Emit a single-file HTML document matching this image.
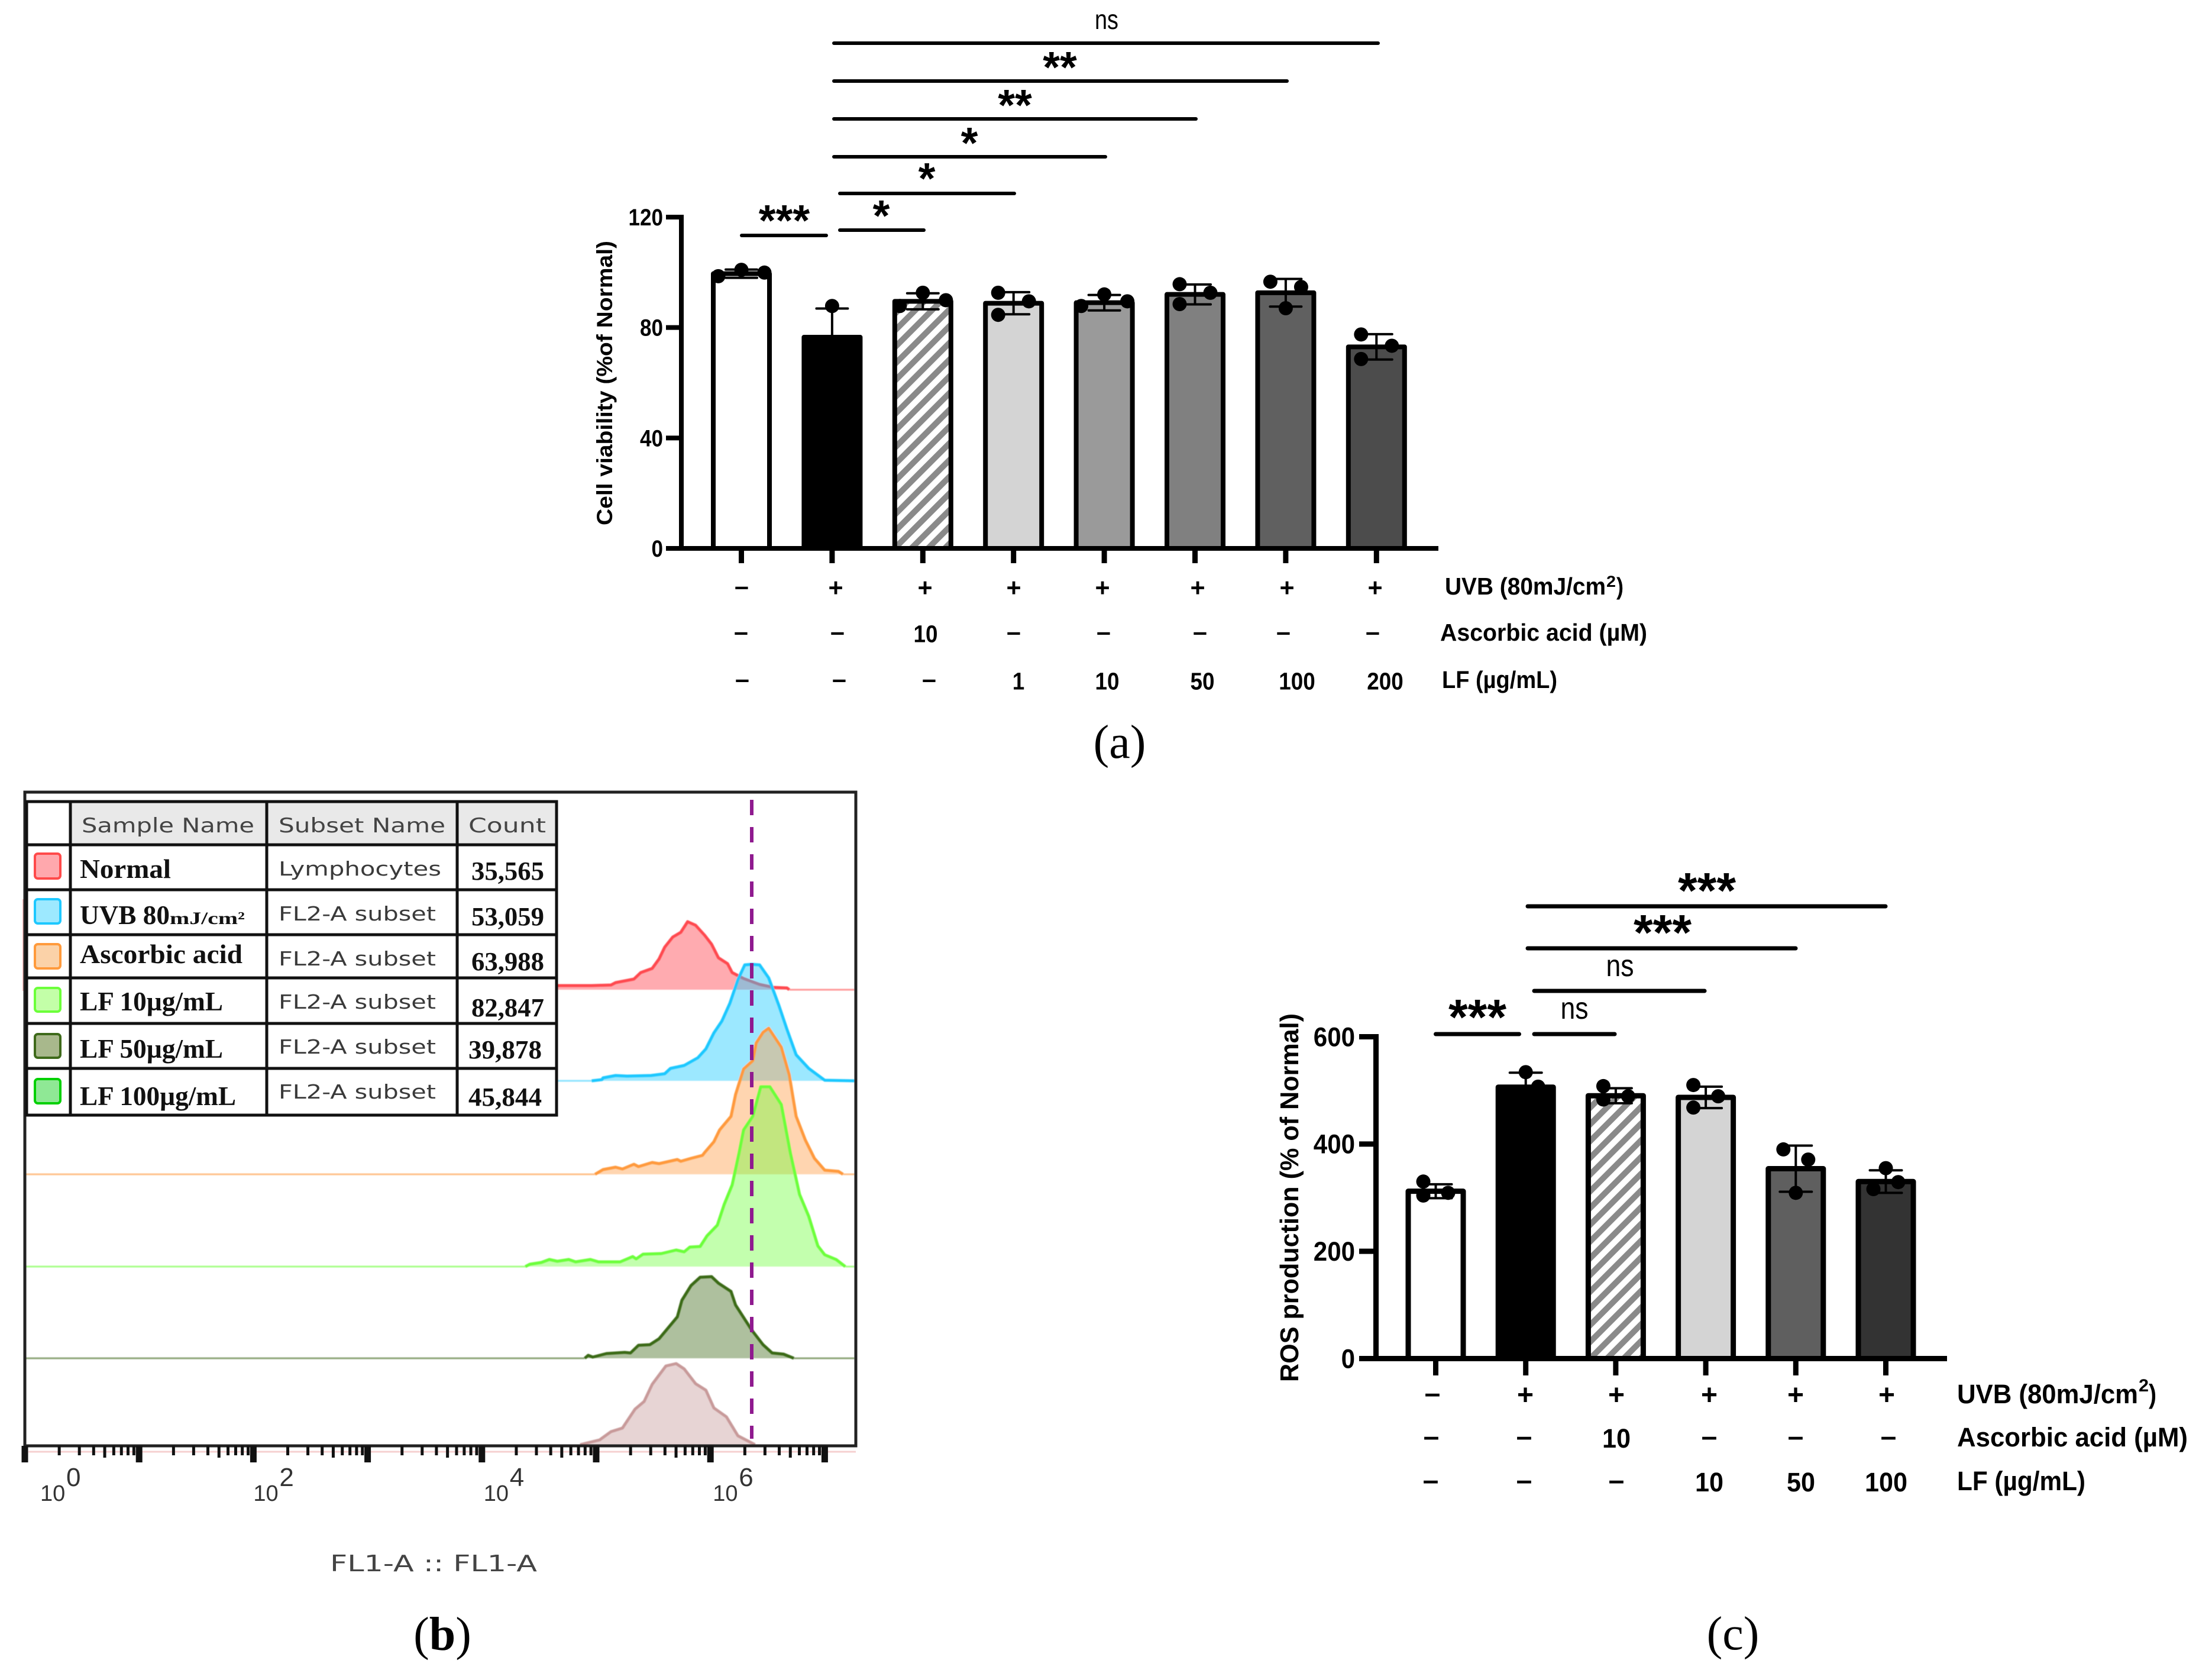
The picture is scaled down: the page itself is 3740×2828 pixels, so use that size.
<!DOCTYPE html>
<html lang="en">
<head>
<meta charset="utf-8">
<title>Cell viability, flow cytometry and ROS production charts</title>
<style>
html,body{margin:0;padding:0;background:#fff;}
svg{display:block;}
text{font-family:"Liberation Sans",sans-serif;}
.b,.b text{font-weight:bold;fill:#000;}
.ser text{font-family:"Liberation Serif",serif;font-weight:bold;fill:#111;}
.hd{font-family:"DejaVu Sans",sans-serif;fill:#444;font-size:34px;}
.sub text{font-family:"DejaVu Sans",sans-serif;fill:#3a3a3a;font-size:33px;}
.cap{font-family:"Liberation Serif",serif;font-size:80px;fill:#000;}
</style>
</head>
<body>
<svg id="fig" xmlns="http://www.w3.org/2000/svg" width="3740" height="2828" viewBox="0 0 3740 2828">
<defs>
<pattern id="hatch" patternUnits="userSpaceOnUse" width="20" height="20" patternTransform="rotate(45)">
<rect width="20" height="20" fill="#fff"/>
<rect width="10" height="20" fill="#8a8a8a"/>
</pattern>
<filter id="soft" x="-5%" y="-5%" width="110%" height="110%"><feGaussianBlur stdDeviation="0.8"/></filter>
</defs>
<rect width="3740" height="2828" fill="#fff"/>

<g id="chartA"></g>
<g id="annotA">
<g stroke="#000" stroke-width="6" stroke-linecap="round">
<line x1="1410" y1="73" x2="2330" y2="73"/>
<line x1="1410" y1="137" x2="2176" y2="137"/>
<line x1="1410" y1="201" x2="2022" y2="201"/>
<line x1="1410" y1="265" x2="1869" y2="265"/>
<line x1="1420" y1="327" x2="1715" y2="327"/>
<line x1="1420" y1="389" x2="1562" y2="389"/>
<line x1="1254" y1="398" x2="1397" y2="398"/>
</g>
<g class="b" font-size="74" text-anchor="middle">
<text x="1792" y="139">**</text>
<text x="1716" y="203">**</text>
<text x="1639" y="267">*</text>
<text x="1567" y="327">*</text>
<text x="1490" y="390">*</text>
<text x="1326" y="398">***</text>
</g>
<text x="1871" y="49" font-size="46" text-anchor="middle" textLength="40" lengthAdjust="spacingAndGlyphs" fill="#000">ns</text>
</g>
<g class="b" font-size="41">
<text x="2443" y="1005" textLength="272" lengthAdjust="spacingAndGlyphs">UVB (80mJ/cm</text>
<text x="2716" y="992" font-size="27" textLength="16" lengthAdjust="spacingAndGlyphs">2</text>
<text x="2733" y="1005" textLength="12" lengthAdjust="spacingAndGlyphs">)</text>
<text x="2435" y="1083" textLength="350" lengthAdjust="spacingAndGlyphs">Ascorbic acid (µM)</text>
<text x="2438" y="1163" textLength="195" lengthAdjust="spacingAndGlyphs">LF (µg/mL)</text>
</g>
<text class="b" transform="translate(1035 647.5) rotate(-90)" font-size="37" text-anchor="middle" textLength="481" lengthAdjust="spacingAndGlyphs">Cell viability (%of Normal)</text>
<text class="cap" x="1893" y="1281" text-anchor="middle">(a)</text>

<g id="chartC"></g>
<g id="annotC">
<g stroke="#000" stroke-width="7" stroke-linecap="round">
<line x1="2583" y1="1532" x2="3188" y2="1532"/>
<line x1="2583" y1="1603" x2="3036" y2="1603"/>
<line x1="2594" y1="1675" x2="2882" y2="1675"/>
<line x1="2594" y1="1748" x2="2730" y2="1748"/>
<line x1="2427.5" y1="1748" x2="2568.5" y2="1748"/>
</g>
<g class="b" font-size="84" text-anchor="middle">
<text x="2886" y="1534">***</text>
<text x="2811" y="1605">***</text>
<text x="2498" y="1748">***</text>
</g>
<g font-size="52" fill="#000" text-anchor="middle">
<text x="2739" y="1650" textLength="47" lengthAdjust="spacingAndGlyphs">ns</text>
<text x="2662" y="1722" textLength="47" lengthAdjust="spacingAndGlyphs">ns</text>
</g>
</g>
<g class="b" font-size="45">
<text x="3309" y="2372" textLength="306" lengthAdjust="spacingAndGlyphs">UVB (80mJ/cm</text>
<text x="3616" y="2352" font-size="30" textLength="17" lengthAdjust="spacingAndGlyphs">2</text>
<text x="3633" y="2372" textLength="13" lengthAdjust="spacingAndGlyphs">)</text>
<text x="3309" y="2445" textLength="390" lengthAdjust="spacingAndGlyphs">Ascorbic acid (µM)</text>
<text x="3309" y="2519" textLength="217" lengthAdjust="spacingAndGlyphs">LF (µg/mL)</text>
</g>
<text class="b" transform="translate(2195 2024.5) rotate(-90)" font-size="44" text-anchor="middle" textLength="623" lengthAdjust="spacingAndGlyphs">ROS production (% of Normal)</text>
<text class="cap" x="2930" y="2788" text-anchor="middle">(c)</text>

<g id="flow">
<rect x="38" y="1520" width="3" height="155" fill="#fbc0c0"/>
<g id="flowTraces" filter="url(#soft)"></g>
<rect x="42" y="1339" width="1405" height="1105" fill="none" stroke="#222" stroke-width="5"/>
<line x1="1271" y1="1352" x2="1271" y2="2432" stroke="#8f1a8f" stroke-width="6" stroke-dasharray="26 20"/>
<line x1="48" y1="2454" x2="1447" y2="2454" stroke="#f6d0d0" stroke-width="3"/>
<g id="flowAxis"></g>
<text x="558" y="2656" font-size="38" fill="#444" style="font-family:'DejaVu Sans',sans-serif" textLength="350" lengthAdjust="spacingAndGlyphs">FL1-A :: FL1-A</text>
</g>

<g id="flowLegend">
<rect x="45" y="1355" width="896" height="530" fill="#fff"/>
<rect x="119" y="1355" width="822" height="73" fill="#e9e9e9"/>
<g stroke="#111" stroke-width="5" fill="none">
<rect x="45" y="1355" width="896" height="530"/>
<line x1="119" y1="1355" x2="119" y2="1885"/><line x1="451" y1="1355" x2="451" y2="1885"/><line x1="773" y1="1355" x2="773" y2="1885"/>
<line x1="45" y1="1428" x2="941" y2="1428"/><line x1="45" y1="1504" x2="941" y2="1504"/><line x1="45" y1="1580" x2="941" y2="1580"/>
<line x1="45" y1="1653" x2="941" y2="1653"/><line x1="45" y1="1730" x2="941" y2="1730"/><line x1="45" y1="1806" x2="941" y2="1806"/>
</g>
<g stroke-width="4">
<rect x="59" y="1443" width="43" height="42" rx="5" fill="#ffa8ad" stroke="#ff4a4a"/>
<rect x="59" y="1520" width="43" height="41" rx="5" fill="#9de9ff" stroke="#1ec8ff"/>
<rect x="59" y="1596" width="43" height="41" rx="5" fill="#fbd2a8" stroke="#ff9a3c"/>
<rect x="59" y="1670" width="43" height="40" rx="5" fill="#c3ffa8" stroke="#6cff3a"/>
<rect x="59" y="1748" width="43" height="40" rx="5" fill="#a8b88c" stroke="#3e6a1a"/>
<rect x="59" y="1824" width="43" height="41" rx="5" fill="#8fe895" stroke="#00d000"/>
</g>
<text class="hd" x="138" y="1407" textLength="292" lengthAdjust="spacingAndGlyphs">Sample Name</text>
<text class="hd" x="471" y="1407" textLength="282" lengthAdjust="spacingAndGlyphs">Subset Name</text>
<text class="hd" x="792" y="1407" textLength="131" lengthAdjust="spacingAndGlyphs">Count</text>
<g class="ser" font-size="46">
<text x="135" y="1484" textLength="154" lengthAdjust="spacingAndGlyphs">Normal</text>
<text x="135" y="1562" textLength="152" lengthAdjust="spacingAndGlyphs">UVB 80</text>
<text x="287" y="1562" font-size="30" textLength="127" lengthAdjust="spacingAndGlyphs">mJ/cm²</text>
<text x="135" y="1628" textLength="275" lengthAdjust="spacingAndGlyphs">Ascorbic acid</text>
<text x="135" y="1708" textLength="242" lengthAdjust="spacingAndGlyphs">LF 10µg/mL</text>
<text x="135" y="1788" textLength="242" lengthAdjust="spacingAndGlyphs">LF 50µg/mL</text>
<text x="135" y="1868" textLength="264" lengthAdjust="spacingAndGlyphs">LF 100µg/mL</text>
</g>
<g class="sub">
<text x="471" y="1480" textLength="275" lengthAdjust="spacingAndGlyphs">Lymphocytes</text>
<text x="471" y="1556" textLength="266" lengthAdjust="spacingAndGlyphs">FL2-A subset</text>
<text x="471" y="1632" textLength="266" lengthAdjust="spacingAndGlyphs">FL2-A subset</text>
<text x="471" y="1705" textLength="266" lengthAdjust="spacingAndGlyphs">FL2-A subset</text>
<text x="471" y="1781" textLength="266" lengthAdjust="spacingAndGlyphs">FL2-A subset</text>
<text x="471" y="1857" textLength="266" lengthAdjust="spacingAndGlyphs">FL2-A subset</text>
</g>
<g class="ser" font-size="44">
<text x="797" y="1487" textLength="123" lengthAdjust="spacingAndGlyphs">35,565</text>
<text x="797" y="1564" textLength="123" lengthAdjust="spacingAndGlyphs">53,059</text>
<text x="797" y="1640" textLength="123" lengthAdjust="spacingAndGlyphs">63,988</text>
<text x="797" y="1718" textLength="123" lengthAdjust="spacingAndGlyphs">82,847</text>
<text x="792" y="1789" textLength="124" lengthAdjust="spacingAndGlyphs">39,878</text>
<text x="792" y="1869" textLength="124" lengthAdjust="spacingAndGlyphs">45,844</text>
</g>
</g>
<text class="cap" x="748" y="2789" text-anchor="middle">(<tspan font-weight="bold">b</tspan>)</text>
</svg>

<script>
// ---- Panel (a) data ----
const aCategories = ['Normal','UVB','Ascorbic 10','LF 1','LF 10','LF 50','LF 100','LF 200'];
const aMeans = [99.5,76.5,89.5,88.8,89,92,92.6,73];
const aSD = [1.5,10.4,2.9,4,2.8,3.6,5,4.6];
const aDots = [[98.6,100.9,99.9],[87.8],[87.8,92.6,89.9],[92.6,84.6,89.5],[87.8,92,89.5],[95.7,88.5,92.6],[96.6,87,94.7],[77.5,68.6,73.4]];
const aDotSlots = [[-3,0,3],[0],[-3,0,3],[-2,-2,2],[-3,0,3],[-2,-2,2],[-2,0,2],[-2,-2,2]];
const aYTicks = [0,40,80,120];
const aUvbRow = ['–','+','+','+','+','+','+','+'];
const aAscorbicRow = ['–','–','10','–','–','–','–','–'];
const aLfRow = ['–','–','–','1','10','50','100','200'];

// ---- Panel (c) data ----
const cCategories = ['Normal','UVB','Ascorbic 10','LF 10','LF 50','LF 100'];
const cMeans = [312,506,490,487,354,330];
const cSD = [13,27,14,20,43,21];
const cDots = [[330,304,309],[534,507],[508,483,489],[510,468,489],[390,309,371],[316,355,329]];
const cDotSlots = [[-2,-2,2],[0,2],[-2,-2,2],[-2,-2,2],[-2,0,2],[-2,0,2]];
const cYTicks = [0,200,400,600];
const cUvbRow = ['–','+','+','+','+','+'];
const cAscorbicRow = ['–','–','10','–','–','–'];
const cLfRow = ['–','–','–','10','50','100'];

// ---- Panel (b) data: log10(FL1-A) vs. event count ----
const flowTickExponents = [0,2,4,6];
const normalLog = [4.6,4.96,5.13,5.17,5.25,5.33,5.39,5.49,5.55,5.6,5.67,5.74,5.8,5.87,5.95,6.01,6.07,6.15,6.19,6.29,6.43,6.55,6.67,6.69,7.26];
const normalCount = [7,7,8,12,15,18,29,36,52,72,89,97,115,109,92,77,54,44,29,19,9,4,3,0,0];
const uvbLog = [4.66,4.96,5.05,5.06,5.17,5.27,5.48,5.6,5.65,5.77,5.89,5.96,6.03,6.1,6.17,6.24,6.3,6.36,6.43,6.51,6.6,6.67,6.75,6.86,7,7.26];
const uvbCount = [0,0,2,5,9,8,9,12,21,26,39,54,81,101,131,171,196,197,196,174,127,87,44,21,1,0];
const ascorbicLog = [0,4.99,5.06,5.17,5.23,5.33,5.37,5.49,5.55,5.71,5.74,5.83,5.93,5.95,6.03,6.08,6.18,6.22,6.29,6.37,6.4,6.46,6.51,6.62,6.69,6.75,6.83,6.91,7,7.12,7.16,7.26];
const ascorbicCount = [0,0,8,12,9,17,13,20,18,25,22,27,32,37,55,75,98,135,178,192,222,240,247,215,168,98,58,27,7,5,0,0];
const lf10Log = [0,4.38,4.42,4.52,4.59,4.66,4.76,4.82,4.95,5.02,5.21,5.32,5.35,5.41,5.57,5.7,5.77,5.82,5.91,5.97,6.06,6.12,6.19,6.25,6.29,6.37,6.44,6.52,6.62,6.7,6.78,6.86,6.94,7,7.1,7.18,7.26];
const lf10Count = [0,0,4,7,12,9,12,8,12,8,8,17,13,21,22,28,25,33,34,52,70,105,138,192,231,254,304,304,274,192,122,85,35,20,12,0,0];
const lf50Log = [0,4.9,4.93,4.97,5.09,5.25,5.3,5.37,5.47,5.55,5.71,5.75,5.83,5.91,6.01,6.07,6.18,6.22,6.36,6.46,6.54,6.64,6.73,7.26];
const lf50Count = [0,0,5,2,8,10,9,22,23,33,70,98,123,137,138,127,113,90,48,23,9,7,0,0];
const lf100Log = [4.86,5.03,5.13,5.23,5.34,5.42,5.49,5.61,5.7,5.77,5.87,5.96,6.03,6.14,6.24,6.39];
const lf100Count = [0,8,22,28,60,73,102,133,137,128,103,92,62,47,15,0];

const NS = 'http://www.w3.org/2000/svg';
function mk(parent, tag, attrs, txt) {
  const el = document.createElementNS(NS, tag);
  for (const k in attrs) el.setAttribute(k, attrs[k]);
  if (txt !== undefined) el.textContent = txt;
  parent.appendChild(el);
  return el;
}

function drawBarChart(g, cfg) {
  const yOf = v => cfg.y0 - v * cfg.pxPerUnit;
  const xOf = i => cfg.x0 + i * cfg.step;
  const axisW = cfg.stroke;

  // y axis and ticks
  const yAxis = mk(g, 'line', {x1: cfg.axisX, x2: cfg.axisX, y1: yOf(cfg.yTicks[cfg.yTicks.length - 1]) - axisW / 2, y2: cfg.y0 + axisW / 2, stroke: '#000', 'stroke-width': axisW});
  
  
  cfg.yTicks.forEach(t => {
    const tick = mk(g, 'line', {x1: cfg.tickLeft, x2: cfg.axisX, y1: yOf(t), y2: yOf(t), stroke: '#000', 'stroke-width': axisW});
    
    
    const s = String(t);
    const lab = mk(g, 'text', {x: cfg.tickLabelRight, y: yOf(t) + cfg.tickFs * 0.35, 'text-anchor': 'end', 'font-size': cfg.tickFs, 'font-weight': 'bold', textLength: s.length * cfg.tickDigitW, lengthAdjust: 'spacingAndGlyphs'}, s);
    
    
  });

  // bars, x ticks
  cfg.means.forEach((m, i) => {
    const cx = xOf(i);
    const rect = mk(g, 'rect', {x: cx - cfg.barW / 2 + axisW / 2, y: yOf(m), width: cfg.barW - axisW, height: cfg.y0 - yOf(m), fill: cfg.fills[i], stroke: '#000', 'stroke-width': axisW, 'stroke-linejoin': 'round'});
    
    
    const tk = mk(g, 'line', {x1: cx, x2: cx, y1: cfg.y0, y2: cfg.tickBottom, stroke: '#000', 'stroke-width': 9});
    
    
  });

  // x axis
  const xAxis = mk(g, 'line', {x1: cfg.tickLeft, x2: cfg.axisRight, y1: cfg.y0, y2: cfg.y0, stroke: '#000', 'stroke-width': axisW});
  
  

  // error bars + dots
  cfg.means.forEach((m, i) => {
    const cx = xOf(i);
    const hi = yOf(m + cfg.sd[i]), lo = yOf(m - cfg.sd[i]);
    const errPath = 'M' + cx + ' ' + lo + 'V' + hi + 'M' + (cx - cfg.capW / 2) + ' ' + hi + 'H' + (cx + cfg.capW / 2) + 'M' + (cx - cfg.capW / 2) + ' ' + lo + 'H' + (cx + cfg.capW / 2);
    const err = mk(g, 'path', {d: errPath, stroke: '#000', 'stroke-width': 4, fill: 'none', 'stroke-linecap': 'round'});
    
    
    cfg.dots[i].forEach((v, j) => {
      const c = mk(g, 'circle', {cx: cx + cfg.slots[i][j] * cfg.slotUnit, cy: yOf(v), r: 12, fill: '#000'});
      
      
    });
  });

  // treatment rows
  cfg.rows.forEach((row, r) => {
    row.forEach((s, i) => {
      const cx = cfg.rowCols[r][i];
      const cy = cfg.rowY[r];
      let fs, by, attrs;
      if (s === '–') { fs = cfg.dashFs; by = cy + fs * 0.27; }
      else if (s === '+') { fs = cfg.dashFs; by = cy + fs * 0.33; }
      else { fs = cfg.digitFs; by = cy + fs * 0.35; }
      attrs = {x: cx, y: by, 'text-anchor': 'middle', 'font-size': fs, 'font-weight': 'bold'};
      if (s !== '–' && s !== '+') { attrs.textLength = s.length * cfg.digitW; attrs.lengthAdjust = 'spacingAndGlyphs'; }
      const t = mk(g, 'text', attrs, s);
      
      
    });
  });
}

drawBarChart(document.getElementById('chartA'), {
  means: aMeans, sd: aSD, dots: aDots, slots: aDotSlots, yTicks: aYTicks,
  rows: [aUvbRow, aAscorbicRow, aLfRow],
  fills: ['#fff','#000','url(#hatch)','#d4d4d4','#9a9a9a','#808080','#606060','#4c4c4c'],
  y0: 927, pxPerUnit: 560 / 120, x0: 1253.5, step: 153.4, axisX: 1152, tickLeft: 1126, axisRight: 2432,
  tickBottom: 952, tickLabelRight: 1121, tickFs: 40, tickDigitW: 19.5, stroke: 8, barW: 103, capW: 53, slotUnit: 13,
  rowY: [994, 1071, 1151],
  rowCols: [[1254,1413,1564,1714,1864,2025,2176,2325],[1253,1416,1565,1714,1866,2029,2170,2321],[1255,1419,1571,1722,1872,2033,2193,2342]],
  digitFs: 41, digitW: 20.5, dashFs: 43
});

drawBarChart(document.getElementById('chartC'), {
  means: cMeans, sd: cSD, dots: cDots, slots: cDotSlots, yTicks: cYTicks,
  rows: [cUvbRow, cAscorbicRow, cLfRow],
  fills: ['#fff','#000','url(#hatch)','#d4d4d4','#5f5f5f','#333'],
  y0: 2296.5, pxPerUnit: 544 / 600, x0: 2427.5, step: 152.2, axisX: 2326.5, tickLeft: 2298, axisRight: 3292,
  tickBottom: 2325, tickLabelRight: 2291, tickFs: 45, tickDigitW: 23.4, stroke: 9, barW: 102, capW: 54, slotUnit: 10.5,
  rowY: [2358, 2431, 2505],
  rowCols: [[2422,2579,2733,2890,3036,3190],[2420,2577,2733,2890,3036,3193],[2419,2577,2733,2890,3045,3189]],
  digitFs: 45, digitW: 24, dashFs: 48
});

// ---- Flow histogram ----
const flowX = lg => 42 + 193.2 * lg;
const flowTraces = document.getElementById('flowTraces');
function drawTrace(logs, counts, base, fill, stroke, thin) {
  let line = '', flat = '';
  logs.forEach((lg, i) => {
    const px = flowX(lg).toFixed(1), py = (base - counts[i]).toFixed(1);
    const isFlat = i > 0 && counts[i] === 0 && counts[i - 1] === 0;
    if (isFlat) {
      flat += 'M' + flowX(logs[i - 1]).toFixed(1) + ' ' + base + 'L' + px + ' ' + py;
    } else {
      line += (line === '' || (i > 0 && counts[i - 1] === 0 && (i < 2 || counts[i - 2] === 0)) ? 'M' + flowX(logs[Math.max(i - 1, 0)]).toFixed(1) + ' ' + (base - counts[Math.max(i - 1, 0)]).toFixed(1) + 'L' : 'L') + px + ' ' + py;
    }
  });
  let outline = '';
  logs.forEach((lg, i) => { outline += (i ? 'L' : 'M') + flowX(lg).toFixed(1) + ' ' + (base - counts[i]).toFixed(1); });
  const area = outline + 'L' + flowX(logs[logs.length - 1]).toFixed(1) + ' ' + base + 'L' + flowX(logs[0]).toFixed(1) + ' ' + base + 'Z';
  const a = mk(flowTraces, 'path', {d: area, fill: fill, stroke: 'none'});
  
  
  const f = mk(flowTraces, 'path', {d: flat, fill: 'none', stroke: thin, 'stroke-width': 3});
  
  
  const l = mk(flowTraces, 'path', {d: line, fill: 'none', stroke: stroke, 'stroke-width': 5, 'stroke-linejoin': 'round'});
  
  
}
drawTrace(normalLog, normalCount, 1673, 'rgba(255,70,80,0.45)', '#ff4a4f', '#ff9a9a');
drawTrace(uvbLog, uvbCount, 1827, 'rgba(40,205,255,0.45)', '#1ec8ff', '#8fe4ff');
drawTrace(ascorbicLog, ascorbicCount, 1985, 'rgba(255,155,70,0.42)', '#ff9a3c', '#ffc08a');
drawTrace(lf10Log, lf10Count, 2141, 'rgba(110,255,60,0.42)', '#6cff3a', '#a8ff88');
drawTrace(lf50Log, lf50Count, 2296, 'rgba(62,106,26,0.42)', '#3a6a14', '#8ea678');
drawTrace(lf100Log, lf100Count, 2442, 'rgba(170,100,100,0.28)', '#c89a9a', '#e8c8c8');

const flowAxis = document.getElementById('flowAxis');
for (let d = 0; d <= 7; d++) {
  const maj = mk(flowAxis, 'line', {x1: flowX(d), x2: flowX(d), y1: 2444, y2: 2472, stroke: '#111', 'stroke-width': 11});
  
  
  for (let m = 2; m <= 9; m++) {
    const x = flowX(d + Math.log10(m));
    if (x > 1445) continue;
    const minor = mk(flowAxis, 'line', {x1: x, x2: x, y1: 2444, y2: m === 5 ? 2464 : 2460, stroke: '#111', 'stroke-width': 5});
    
    
  }
}
const flowLabelNudge = {0: 26, 2: 0, 4: 3, 6: 4};
flowTickExponents.forEach(e => {
  const x = flowX(e) + flowLabelNudge[e];
  const base = mk(flowAxis, 'text', {x: x, y: 2537, 'font-size': 38, fill: '#333'}, '10');
  
  
  const sup = mk(flowAxis, 'text', {x: x + 44, y: 2512, 'font-size': 44, fill: '#333'}, String(e));
  
  
});
</script>
</body>
</html>
